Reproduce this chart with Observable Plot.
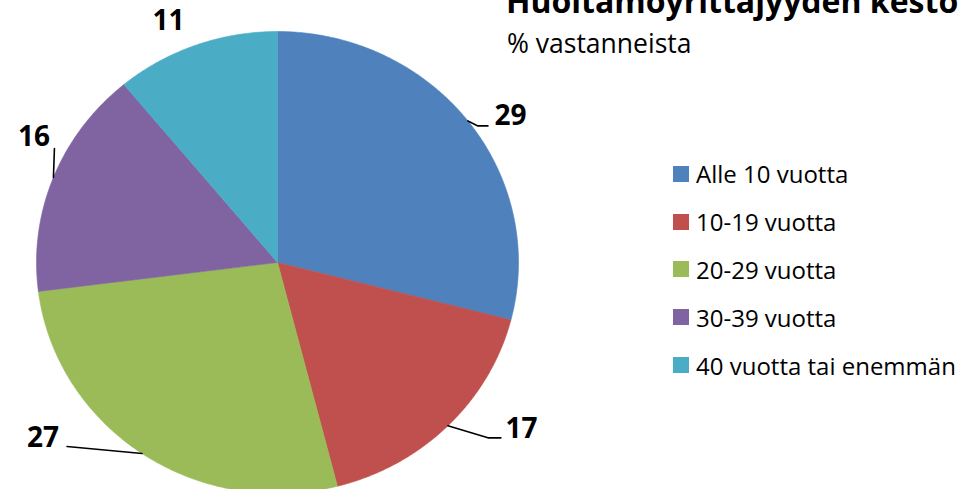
<!DOCTYPE html>
<html>
<head>
<meta charset="utf-8">
<script src="https://cdn.jsdelivr.net/npm/d3@7"></script>
<script src="https://cdn.jsdelivr.net/npm/@observablehq/plot@0.6"></script>
<style>
  html, body { margin: 0; padding: 0; background: #fff; overflow: hidden; }
  #wrap { position: relative; width: 974px; height: 489px; font-family: "Open Sans", sans-serif; color: #000; }
  #chart { position: absolute; left: 0; top: 0; }
  #title { position: absolute; left: 506px; top: -15px; font-size: 32px; font-weight: bold; line-height: 1; white-space: nowrap; }
  #subtitle { position: absolute; left: 507px; top: 30px; font-size: 26.5px; line-height: 1; white-space: nowrap; }
  #legend { position: absolute; left: 673px; top: 150px; }
  .row { display: flex; align-items: center; height: 47.8px; font-size: 24px; white-space: nowrap; }
  .sw { width: 16px; height: 16px; margin-right: 7px; }
</style>
</head>
<body>
<div id="wrap">
  <div id="chart"></div>
  <div id="title">Huoltamoyrittäjyyden kesto</div>
  <div id="subtitle">% vastanneista</div>
  <div id="legend"></div>
</div>
<script>
const categories = ["Alle 10 vuotta", "10-19 vuotta", "20-29 vuotta", "30-39 vuotta", "40 vuotta tai enemmän"];
const values = [29, 17, 27, 16, 11];
const colors = ["#4F81BD", "#C0504D", "#9BBB59", "#8064A2", "#4BACC6"];

// layout (pixels)
const W = 974, H = 489;
const cx = 277, cy = 262, rx = 241, ry = 231;
// leader line elbow offsets and label offsets (pixels from slice edge midpoint)
const leaderOffsets = [[[10, 5], [20, 5]], [[40, 12], [53, 12]], [[-75, -7]], [[1, -29]], []];
const labelOffsets = [[26.5, -4.5, "start"], [57.6, 2.7, "start"], [-83, -15.5, "end"], [-3.5, -40.5, "end"], [-27.4, -24.6, "middle"]];

const pie = d3.pie().sort(null).value(d => d.value).startAngle(0).endAngle(2 * Math.PI);
const data = categories.map((c, i) => ({category: c, value: values[i], color: colors[i], i}));
const arcs = pie(data);

const pxToX = px => px / rx;
const pxToY = py => -py / ry;

const sliceMarks = arcs.map(a => {
  const pts = [[0, 0]];
  const n = Math.max(2, Math.ceil((a.endAngle - a.startAngle) / (Math.PI / 360)));
  for (let k = 0; k <= n; k++) {
    const t = a.startAngle + (a.endAngle - a.startAngle) * k / n;
    pts.push([Math.sin(t), Math.cos(t)]);
  }
  pts.push([0, 0]);
  return Plot.line(pts, {x: d => d[0], y: d => d[1], fill: a.data.color, stroke: a.data.color, strokeWidth: 0.6, curve: "linear"});
});

const anchors = arcs.map(a => {
  const m = (a.startAngle + a.endAngle) / 2;
  return {x: Math.sin(m), y: Math.cos(m), a};
});

const leaderMarks = anchors.map((p, i) => {
  if (!leaderOffsets[i].length) return null;
  const pts = [[p.x, p.y], ...leaderOffsets[i].map(([ox, oy]) => [p.x + pxToX(ox), p.y + pxToY(oy)])];
  return Plot.line(pts, {x: d => d[0], y: d => d[1], stroke: "#000", strokeWidth: 1.6, curve: "linear"});
}).filter(Boolean);

const labelMarks = anchors.map((p, i) => {
  const [ox, oy, anchor] = labelOffsets[i];
  return Plot.text([{x: p.x + pxToX(ox), y: p.y + pxToY(oy), label: String(p.a.data.value)}], {
    x: "x", y: "y", text: "label", textAnchor: anchor,
    fontSize: 28, fontWeight: "bold", fill: "#000", fontFamily: "Open Sans"
  });
});

const chart = Plot.plot({
  width: W, height: H,
  margin: 0,
  x: {domain: [-1, 1], range: [cx - rx, cx + rx], axis: null},
  y: {domain: [-1, 1], range: [cy + ry, cy - ry], axis: null},
  style: {background: "transparent", overflow: "visible"},
  marks: [...sliceMarks, ...leaderMarks, ...labelMarks]
});
document.getElementById("chart").appendChild(chart);

const legend = document.getElementById("legend");
data.forEach(d => {
  const row = document.createElement("div");
  row.className = "row";
  const sw = document.createElement("div");
  sw.className = "sw";
  sw.style.background = d.color;
  const tx = document.createElement("span");
  tx.textContent = d.category;
  row.appendChild(sw);
  row.appendChild(tx);
  legend.appendChild(row);
});
</script>
</body>
</html>
